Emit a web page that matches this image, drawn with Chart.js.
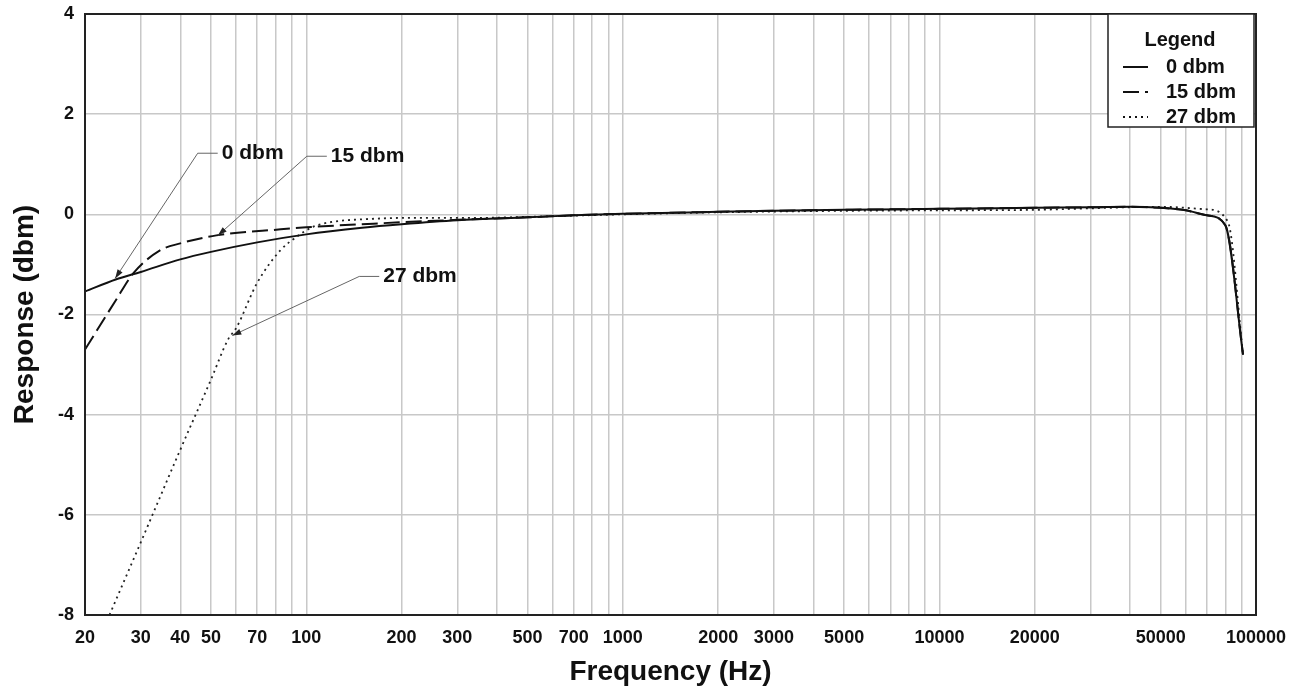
<!DOCTYPE html>
<html>
<head>
<meta charset="utf-8">
<script src="https://cdn.jsdelivr.net/npm/chart.js@4.4.0/dist/chart.umd.min.js"></script>
<style>
  html, body { margin: 0; padding: 0; background: #fff; }
  #wrap { width: 1302px; height: 691px; }
</style>
</head>
<body>
<div id="wrap"><canvas id="myChart" width="1302" height="691"></canvas></div>
<script>
// frequency points (Hz) and responses (dbm) for each level
let freq0 = [20, 25, 30, 40, 50, 70, 100, 150, 200, 300, 500, 700, 1000, 2000, 3000, 5000, 10000, 20000, 30000, 40000, 50000, 60000, 70000, 80000, 91000];
let resp0 = [-1.54, -1.3, -1.15, -0.9, -0.75, -0.56, -0.4, -0.27, -0.2, -0.12, -0.06, -0.02, 0.01, 0.05, 0.07, 0.09, 0.11, 0.13, 0.14, 0.15, 0.13, 0.08, -0.02, -0.22, -2.8];

let freq15 = [20, 25, 28.4, 34.5, 40, 52, 83, 100, 170, 300, 500, 700, 1000, 2000, 3000, 5000, 10000, 20000, 30000, 40000, 50000, 60000, 70000, 80000, 91000];
let resp15 = [-2.7, -1.72, -1.18, -0.72, -0.58, -0.42, -0.3, -0.26, -0.18, -0.11, -0.06, -0.02, 0.01, 0.05, 0.07, 0.09, 0.11, 0.13, 0.14, 0.15, 0.13, 0.08, -0.02, -0.22, -2.8];

let freq27 = [23.9, 30, 40, 50, 56.6, 60.2, 69.8, 82.8, 92.7, 105, 121, 150, 217, 350, 500, 1000, 2000, 5000, 10000, 20000, 30000, 50000, 70000, 81500, 91000];
let resp27 = [-8, -6.55, -4.7, -3.3, -2.5, -2.26, -1.38, -0.72, -0.46, -0.25, -0.15, -0.1, -0.07, -0.07, -0.05, 0, 0.04, 0.07, 0.08, 0.09, 0.12, 0.15, 0.1, -0.15, -2.8];

let xTickLabels = [20, 30, 40, 50, 70, 100, 200, 300, 500, 700, 1000, 2000, 3000, 5000, 10000, 20000, 50000, 100000];
let yTicks = [-8, -6, -4, -2, 0, 2, 4];

let seriesNames = ['0 dbm', '15 dbm', '27 dbm'];

const fontFam = '"Liberation Sans", Arial, sans-serif';

// all grid positions 20..100000 (1..9 x 10^n)
let gridValues = [];
for (let e = 1; e <= 5; e++) {
    for (let m = 1; m <= 9; m++) {
        let v = m * Math.pow(10, e);
        if (v >= 20 && v <= 100000) gridValues.push(v);
    }
}

let toPoints = (xs, ys) => xs.map((x, i) => ({ x: x, y: ys[i] }));

// leader lines: label text, tip (freq, dbm), elbow (freq, dbm)
let callouts = [
    { text: '0 dbm', tip: [24.9, -1.28], elbow: [45.4, 1.22] },
    { text: '15 dbm', tip: [52.6, -0.42], elbow: [100.4, 1.16] },
    { text: '27 dbm', tip: [58.4, -2.42], elbow: [147, -1.24] }
];

let calloutPlugin = {
    id: 'callouts',
    afterDatasetsDraw(chart) {
        const c = chart.ctx;
        const xs = chart.scales.x, ys = chart.scales.y;
        c.save();
        callouts.forEach(cl => {
            let tx = xs.getPixelForValue(cl.tip[0]), ty = ys.getPixelForValue(cl.tip[1]);
            let ex = xs.getPixelForValue(cl.elbow[0]), ey = ys.getPixelForValue(cl.elbow[1]);
            c.strokeStyle = '#666';
            c.lineWidth = 1;
            c.setLineDash([]);
            c.beginPath();
            c.moveTo(ex + 20, ey);
            c.lineTo(ex, ey);
            c.lineTo(tx, ty);
            c.stroke();
            // arrow head
            let ang = Math.atan2(ty - ey, tx - ex);
            c.fillStyle = '#222';
            c.beginPath();
            c.moveTo(tx, ty);
            c.lineTo(tx - 9 * Math.cos(ang) + 3 * Math.sin(ang), ty - 9 * Math.sin(ang) - 3 * Math.cos(ang));
            c.lineTo(tx - 9 * Math.cos(ang) - 3 * Math.sin(ang), ty - 9 * Math.sin(ang) + 3 * Math.cos(ang));
            c.closePath();
            c.fill();
            c.fillStyle = '#111';
            c.font = 'bold 21px ' + fontFam;
            c.textAlign = 'left';
            c.textBaseline = 'middle';
            c.fillText(cl.text, ex + 24, ey);
        });
        c.restore();
    }
};

let framePlugin = {
    id: 'frame',
    afterDraw(chart) {
        const c = chart.ctx;
        const a = chart.chartArea;
        c.save();
        c.strokeStyle = '#222';
        c.lineWidth = 2;
        c.setLineDash([]);
        c.strokeRect(a.left, a.top, a.right - a.left, a.bottom - a.top);

        // legend box
        let bw = 146, bh = 113;
        let bx = a.right - bw - 2, by = a.top;
        c.fillStyle = '#fff';
        c.fillRect(bx, by, bw, bh);
        c.lineWidth = 1.5;
        c.strokeRect(bx, by, bw, bh);
        c.fillStyle = '#111';
        c.font = 'bold 20px ' + fontFam;
        c.textAlign = 'center';
        c.textBaseline = 'middle';
        c.fillText('Legend', bx + bw / 2 - 1, by + 26);
        c.textAlign = 'left';
        chart.data.datasets.forEach((ds, i) => {
            let yy = by + 53 + i * 25;
            c.strokeStyle = '#111';
            c.lineWidth = ds.borderWidth;
            c.setLineDash(ds.borderDash || []);
            c.beginPath();
            c.moveTo(bx + 15, yy);
            c.lineTo(bx + 40, yy);
            c.stroke();
            c.setLineDash([]);
            c.fillText(ds.label, bx + 58, yy);
        });
        c.restore();
    }
};

let ctx = document.getElementById('myChart').getContext('2d');
let myChart = new Chart(ctx, {
    type: 'line',
    data: {
        datasets: [{
            label: seriesNames[0],
            data: toPoints(freq0, resp0),
            borderColor: '#111',
            borderWidth: 2,
            cubicInterpolationMode: 'monotone',
            pointRadius: 0
        }, {
            label: seriesNames[1],
            data: toPoints(freq15, resp15),
            borderColor: '#111',
            borderWidth: 2,
            borderDash: [16, 6],
            cubicInterpolationMode: 'monotone',
            pointRadius: 0
        }, {
            label: seriesNames[2],
            data: toPoints(freq27, resp27),
            borderColor: '#222',
            borderWidth: 1.8,
            borderDash: [2, 4],
            cubicInterpolationMode: 'monotone',
            pointRadius: 0
        }]
    },
    options: {
        responsive: false,
        animation: false,
        layout: {
            padding: { top: 14, right: 46, left: 0, bottom: 0 }
        },
        plugins: {
            legend: { display: false },
            tooltip: { enabled: false }
        },
        scales: {
            x: {
                type: 'logarithmic',
                min: 20,
                max: 100000,
                afterBuildTicks: (scale) => {
                    scale.ticks = gridValues.map(v => ({ value: v }));
                },
                afterFit: (scale) => { scale.height = 76; },
                grid: {
                    color: '#c8c8c8',
                    lineWidth: 1.5,
                    drawTicks: false
                },
                border: { display: true, color: '#222', width: 2 },
                ticks: {
                    autoSkip: false,
                    maxRotation: 0,
                    padding: 12,
                    color: '#111',
                    font: { family: fontFam, size: 18, weight: 'bold' },
                    callback: function (value) {
                        return xTickLabels.includes(value) ? String(value) : '';
                    }
                },
                title: {
                    display: true,
                    text: 'Frequency (Hz)',
                    color: '#111',
                    padding: { top: 0, bottom: 2 },
                    font: { family: fontFam, size: 28, weight: 'bold' }
                }
            },
            y: {
                min: -8,
                max: 4,
                afterBuildTicks: (scale) => {
                    scale.ticks = yTicks.map(v => ({ value: v }));
                },
                afterFit: (scale) => {
                    scale.width = 85;
                    scale.paddingTop = 0;
                    scale.paddingBottom = 0;
                },
                grid: {
                    color: '#c8c8c8',
                    lineWidth: 1.5,
                    drawTicks: false
                },
                border: { display: true, color: '#222', width: 2 },
                ticks: {
                    padding: 11,
                    color: '#111',
                    font: { family: fontFam, size: 18, weight: 'bold' }
                },
                title: {
                    display: true,
                    text: 'Response (dbm)',
                    color: '#111',
                    padding: { top: 8, bottom: 0 },
                    font: { family: fontFam, size: 28, weight: 'bold' }
                }
            }
        }
    },
    plugins: [calloutPlugin, framePlugin]
});
</script>
</body>
</html>
